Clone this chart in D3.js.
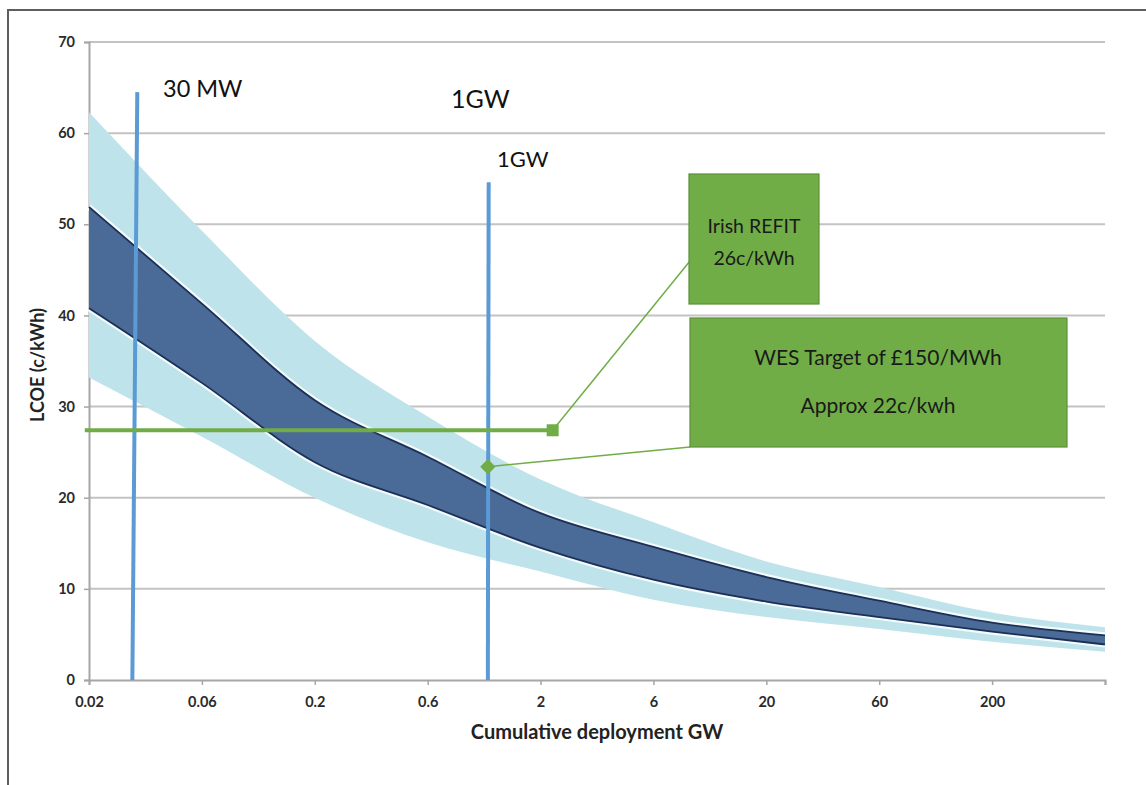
<!DOCTYPE html>
<html>
<head>
<meta charset="utf-8">
<script src="https://cdn.jsdelivr.net/npm/d3@7"></script>
<style>
body{margin:0;background:#fff;}
svg{display:block;}
text{font-family:Lato,"Open Sans",sans-serif;}
</style>
</head>
<body>
<svg id="chart" width="1146" height="785"></svg>
<script>
// ---- data ----
const xTicks = [0.02, 0.06, 0.2, 0.6, 2, 6, 20, 60, 200, 600];
const xTickLabels = ["0.02", "0.06", "0.2", "0.6", "2", "6", "20", "60", "200", ""];
const yTicks = [0, 10, 20, 30, 40, 50, 60, 70];
const deployment = [0.02, 0.06, 0.2, 0.6, 2, 6, 20, 60, 200, 600];
const outerHigh   = [62.3, 49.3, 37.2, 28.9, 22.0, 17.3, 13.0, 10.2, 7.4, 5.8];
const centralHigh = [51.9, 41.3, 30.7, 24.5, 18.3, 14.6, 11.3, 8.7, 6.3, 4.9];
const centralLow  = [40.8, 32.6, 23.9, 19.2, 14.5, 11.0, 8.6, 6.9, 5.3, 3.9];
const outerLow    = [33.2, 26.7, 20.0, 15.1, 11.9, 8.8, 6.9, 5.6, 4.2, 3.1];
const line30MW = [{x: 0.032, y: 64.5}, {x: 0.0305, y: 0}];
const line1GW  = [{x: 1.15, y: 54.6}, {x: 1.14, y: 0}];
const refitLine = [{x: 0.0192, y: 27.4}, {x: 2.25, y: 27.4}];
const wesPoint = {x: 1.14, y: 23.4};
const labels1GW = ["1GW", "1GW"];
const label30MW = "30 MW";
const refitText = ["Irish REFIT", "26c/kWh"];
const wesText = ["WES Target of £150/MWh", "Approx 22c/kwh"];

// ---- layout ----
const svg = d3.select("#chart");
const pL = 89, pR = 1105, pT = 42, pB = 680;

// frame
svg.append("path").attr("d", "M8,785 L8,10 L1146,10")
  .attr("fill", "none").attr("stroke", "#5e5e5e").attr("stroke-width", 2);

const x = d3.scaleLog()
  .domain(xTicks)
  .range(xTicks.map((d, i) => pL + i * (pR - pL) / (xTicks.length - 1)));
const y = d3.scaleLinear().domain([0, 70]).range([pB, pT]);

// gridlines
svg.append("g").selectAll("line").data(yTicks.filter(d => d > 0)).join("line")
  .attr("x1", pL).attr("x2", pR)
  .attr("y1", d => y(d)).attr("y2", d => y(d))
  .attr("stroke", "#c3c3c3").attr("stroke-width", 2);

// y axis
const yAxis = svg.append("g").attr("transform", `translate(${pL},0)`)
  .call(d3.axisLeft(y).tickValues(yTicks).tickSize(5).tickPadding(9));
yAxis.select(".domain").attr("stroke", "#a6a6a6").attr("stroke-width", 2);
yAxis.selectAll(".tick line").attr("stroke", "#a6a6a6").attr("stroke-width", 1.5);
yAxis.selectAll(".tick text").attr("font-size", 14.5).attr("font-weight", "bold")
  .attr("fill", "#2a2a2a").attr("font-family", "Lato, sans-serif");

// x axis
const xAxis = svg.append("g").attr("transform", `translate(0,${pB})`)
  .call(d3.axisBottom(x).tickValues(xTicks).tickFormat((d, i) => xTickLabels[i]).tickSize(5).tickPadding(12));
xAxis.select(".domain").attr("stroke", "#a6a6a6").attr("stroke-width", 2);
xAxis.selectAll(".tick line").attr("stroke", "#a6a6a6").attr("stroke-width", 1.5);
xAxis.selectAll(".tick text").attr("font-size", 14.5).attr("font-weight", "bold")
  .attr("fill", "#2a2a2a").attr("font-family", "Lato, sans-serif");

// bands
const rows = deployment.map((d, i) => ({x: d, oh: outerHigh[i], ch: centralHigh[i], cl: centralLow[i], ol: outerLow[i]}));
const crv = d3.curveMonotoneX;
const outerArea = d3.area().curve(crv).x(d => x(d.x)).y0(d => y(d.ol)).y1(d => y(d.oh));
const centralArea = d3.area().curve(crv).x(d => x(d.x)).y0(d => y(d.cl)).y1(d => y(d.ch));
svg.append("path").datum(rows).attr("d", outerArea).attr("fill", "#bfe3ea");
const lineCH = d3.line().curve(crv).x(d => x(d.x)).y(d => y(d.ch));
const lineCL = d3.line().curve(crv).x(d => x(d.x)).y(d => y(d.cl));
[lineCH, lineCL].forEach(l => svg.append("path").datum(rows).attr("d", l)
  .attr("fill", "none").attr("stroke", "#f2fbfd").attr("stroke-width", 6));
svg.append("path").datum(rows).attr("d", centralArea).attr("fill", "#4a6a98");
[lineCH, lineCL].forEach(l => svg.append("path").datum(rows).attr("d", l)
  .attr("fill", "none").attr("stroke", "#1c2f55").attr("stroke-width", 1.8));

// vertical markers
const vline = d3.line().x(d => x(d.x)).y(d => y(d.y));
[line30MW, line1GW].forEach(l => svg.append("path").datum(l).attr("d", vline)
  .attr("fill", "none").attr("stroke", "#5b9bd5").attr("stroke-width", 4));

// text labels
svg.append("text").attr("x", 163).attr("y", 97).attr("font-size", 23.5).attr("fill", "#111").text(label30MW);
svg.append("text").attr("x", 451).attr("y", 108).attr("font-size", 25).attr("fill", "#111").text(labels1GW[0]);
svg.append("text").attr("x", 497).attr("y", 167).attr("font-size", 22).attr("fill", "#111").text(labels1GW[1]);

// green REFIT line
svg.append("path").datum(refitLine).attr("d", vline).attr("fill", "none")
  .attr("stroke", "#70ad47").attr("stroke-width", 4);

// connectors
const green = "#70ad47";
svg.append("line").attr("x1", x(refitLine[1].x)).attr("y1", y(refitLine[1].y))
  .attr("x2", 690).attr("y2", 261).attr("stroke", green).attr("stroke-width", 1.5);
svg.append("line").attr("x1", x(wesPoint.x)).attr("y1", y(wesPoint.y))
  .attr("x2", 690).attr("y2", 447).attr("stroke", green).attr("stroke-width", 1.5);

// markers
svg.append("rect").attr("x", x(refitLine[1].x) - 6).attr("y", y(refitLine[1].y) - 6)
  .attr("width", 12).attr("height", 12).attr("fill", green);
svg.append("path").attr("d", d3.symbol(d3.symbolDiamond2, 150)())
  .attr("transform", `translate(${x(wesPoint.x)},${y(wesPoint.y)})`).attr("fill", green);

// boxes
svg.append("rect").attr("x", 689).attr("y", 174).attr("width", 130).attr("height", 130)
  .attr("fill", green).attr("stroke", "#5a8f38").attr("stroke-width", 1.2);
svg.append("rect").attr("x", 690).attr("y", 318).attr("width", 377).attr("height", 129)
  .attr("fill", green).attr("stroke", "#5a8f38").attr("stroke-width", 1.2);
refitText.forEach((t, i) => svg.append("text").attr("x", 754).attr("y", 233 + i * 32)
  .attr("text-anchor", "middle").attr("font-size", 19.5).attr("fill", "#1a1a1a").text(t));
wesText.forEach((t, i) => svg.append("text").attr("x", 878).attr("y", 365 + i * 48)
  .attr("text-anchor", "middle").attr("font-size", 21).attr("fill", "#1a1a1a").text(t));

// axis titles
svg.append("text").attr("x", 597).attr("y", 739).attr("text-anchor", "middle")
  .attr("font-size", 20).attr("font-weight", "bold").attr("fill", "#222").text("Cumulative deployment GW");
svg.append("text").attr("transform", "translate(44,365) rotate(-90)").attr("text-anchor", "middle")
  .attr("font-size", 18).attr("font-weight", "bold").attr("fill", "#222").text("LCOE (c/kWh)");
</script>
</body>
</html>
